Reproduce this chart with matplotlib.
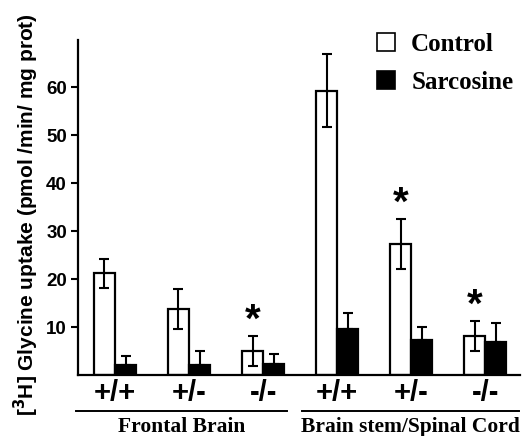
import matplotlib
matplotlib.use('Agg')
import matplotlib.pyplot as plt
from matplotlib.patches import Patch
import numpy as np

# data
genotypes = ['+/+', '+/-', '-/-', '+/+', '+/-', '-/-']
regions = ['Frontal Brain', 'Brain stem/Spinal Cord']
control = [21.2, 13.8, 5.0, 59.2, 27.3, 8.1]
control_err = [3.0, 4.2, 3.2, 7.6, 5.2, 3.2]
sarcosine = [2.0, 2.1, 2.3, 9.6, 7.2, 6.9]
sarcosine_err = [1.9, 3.0, 2.1, 3.3, 2.9, 4.0]
significant = [False, False, True, False, True, True]

SANS = 'Liberation Sans'
SERIF = 'Liberation Serif'

fig = plt.figure(figsize=(5.22, 4.36), dpi=100)
ax = fig.add_axes([0.1494, 0.1399, 0.8468, 0.7683])

x = np.arange(len(genotypes))
w = 0.285
ax.bar(x - w / 2, control, w, color='white', edgecolor='black', linewidth=1.6,
       yerr=control_err, capsize=3.5, error_kw=dict(elinewidth=1.5, capthick=1.5),
       zorder=2)
ax.bar(x + w / 2, sarcosine, w, color='black', edgecolor='black', linewidth=1.6,
       yerr=[np.zeros(len(sarcosine_err)), sarcosine_err], capsize=3.5,
       error_kw=dict(elinewidth=1.5, capthick=1.5), zorder=2)

# significance stars
for i, s in enumerate(significant):
    if s:
        ax.text(x[i] - w / 2, control[i] + control_err[i] + 3.1, '*',
                ha='center', va='center', fontsize=29, fontweight='bold',
                family=SANS)

ax.set_xlim(-0.5, 5.47)
ax.set_ylim(0, 69.8)
ax.set_yticks([10, 20, 30, 40, 50, 60])
ax.set_yticklabels(['10', '20', '30', '40', '50', '60'], fontsize=13.5,
                   fontweight='bold', family=SANS)
ax.tick_params(axis='y', length=5, width=1.5, pad=3)
ax.set_xticks(x)
ax.set_xticklabels(genotypes, fontsize=21, fontweight='bold', family=SANS)
ax.tick_params(axis='x', length=0, pad=3)

for sp in ['top', 'right']:
    ax.spines[sp].set_visible(False)
for sp in ['left', 'bottom']:
    ax.spines[sp].set_linewidth(1.6)

ax.set_ylabel('[$^{\\mathbf{3}}$H] Glycine uptake (pmol /min/ mg prot)',
              fontsize=15, fontweight='bold', family=SANS)
ax.yaxis.set_label_coords(-0.084, 0.478)

# region brackets under the genotype labels
trans = ax.get_xaxis_transform()
spans = [(-0.527, 2.32), (2.53, 5.45)]
for (a, b), name in zip(spans, regions):
    ax.plot([a, b], [-0.1075, -0.1075], color='black', lw=1.4,
            transform=trans, clip_on=False)
    ax.text((a + b) / 2, -0.155, name, transform=trans, ha='center',
            va='center', fontsize=15.5, fontweight='bold', family=SERIF)

handles = [Patch(facecolor='white', edgecolor='black', linewidth=1.2),
           Patch(facecolor='black', edgecolor='black', linewidth=1.2)]
leg = ax.legend(handles, ['Control', 'Sarcosine'], loc='upper left',
                bbox_to_anchor=(0.626, 1.089), frameon=False,
                prop=dict(family=SERIF, weight='bold', size=18),
                handlelength=0.72, handleheight=0.72, handletextpad=0.64,
                labelspacing=0.6)

fig.savefig('out.png', dpi=100)
